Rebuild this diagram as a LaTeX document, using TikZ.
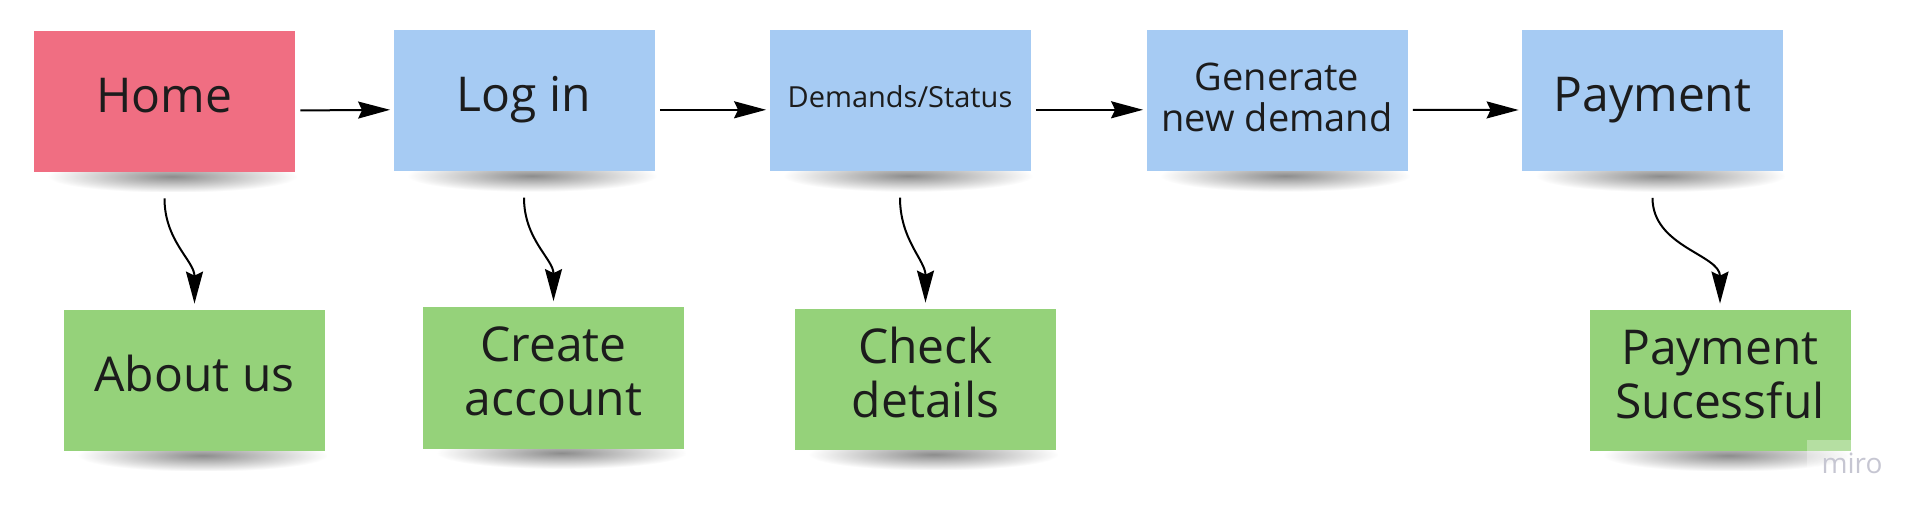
\documentclass[tikz,border=0pt]{standalone}
\usepackage{fontspec}
\setmainfont{Open Sans}
\usetikzlibrary{arrows.meta,fadings,backgrounds}

\definecolor{stickyred}{HTML}{F06E82}
\definecolor{stickyblue}{HTML}{A6CBF3}
\definecolor{stickygreen}{HTML}{95D27A}
\definecolor{inkdark}{HTML}{1C1C1C}
\definecolor{mirogray}{HTML}{C6C6D2}
\tikzfading[name=shadowfade, inner color=transparent!0, outer color=transparent!100]

\begin{document}
\begin{tikzpicture}[x=0.5pt, y=-0.5pt, >={Stealth[length=16pt,width=8.5pt,inset=2pt]},
  sticky/.style={minimum width=130.5pt, minimum height=70.5pt, inner sep=0pt,
    align=center, text=inkdark, font=\fontsize{24}{27}\selectfont,
    text height=12.9pt, text depth=2pt},
  twoline/.style={text height=39.8pt, text depth=2pt},
  rednote/.style={sticky, fill=stickyred},
  bluenote/.style={sticky, fill=stickyblue},
  greennote/.style={sticky, fill=stickygreen},
  flow/.style={->, line width=1pt, shorten <=2.5pt, shorten >=1.5pt},
  branch/.style={->, line width=1pt}]

\useasboundingbox (0,0) rectangle (1928,518);

% Main flow
\node[rednote] (home) at (164.5,101.5) {Home};
\node[bluenote] (login) at (524,100.8) {Log in};
\node[bluenote, font=\fontsize{14.5}{16}\selectfont, text height=8.5pt] (demands) at (900,100.8) {Demands/Status};
\node[bluenote, font=\fontsize{19}{20.5}\selectfont, text height=32.5pt] (generate) at (1277,100.8) {Generate\\new demand};
\node[bluenote] (payment) at (1652.5,101) {Payment};

% Side pages
\node[greennote] (about) at (194.5,380.5) {About us};
\node[greennote, twoline] (create) at (553.5,378) {Create\\account};
\node[greennote, twoline] (check) at (925.5,379.5) {Check\\details};
\node[greennote, twoline] (success) at (1720,380.5) {Payment\\Sucessful};

% Shadows under the notes
\begin{scope}[on background layer]
\foreach \n in {home,login,demands,generate,payment,about,create,check,success}
  \fill[black, opacity=.45, path fading=shadowfade]
    ([xshift=7pt,yshift=6pt]\n.south west) rectangle ([xshift=1pt,yshift=-10pt]\n.south east);
\end{scope}

% Horizontal arrows
\draw[flow] ([yshift=-4.5pt]home.east) -- ([yshift=-4.5pt]login.west);
\draw[flow] ([yshift=-4.5pt]login.east) -- ([yshift=-4.5pt]demands.west);
\draw[flow] ([yshift=-4.5pt]demands.east) -- ([yshift=-4.5pt]generate.west);
\draw[flow] ([yshift=-4.5pt]generate.east) -- ([yshift=-4.5pt]payment.west);

% Curved arrows down
\draw[branch] ([yshift=-13pt]home.south) to[out=-90,in=90] ([yshift=3pt]about.north);
\draw[branch] ([yshift=-13pt]login.south) to[out=-90,in=90] ([yshift=3pt]create.north);
\draw[branch] ([yshift=-13pt]demands.south) to[out=-90,in=90] ([yshift=3pt]check.north);
\draw[branch] ([yshift=-13pt]payment.south) to[out=-90,in=90] ([yshift=3pt]success.north);

% Watermark
\fill[white, opacity=.3] (1807,440) rectangle (1858,468);
\node[text=mirogray, font=\fontsize{14}{14}\selectfont, inner sep=0pt, anchor=base] (miro) at (1852,473) {miro};

\end{tikzpicture}
\end{document}
